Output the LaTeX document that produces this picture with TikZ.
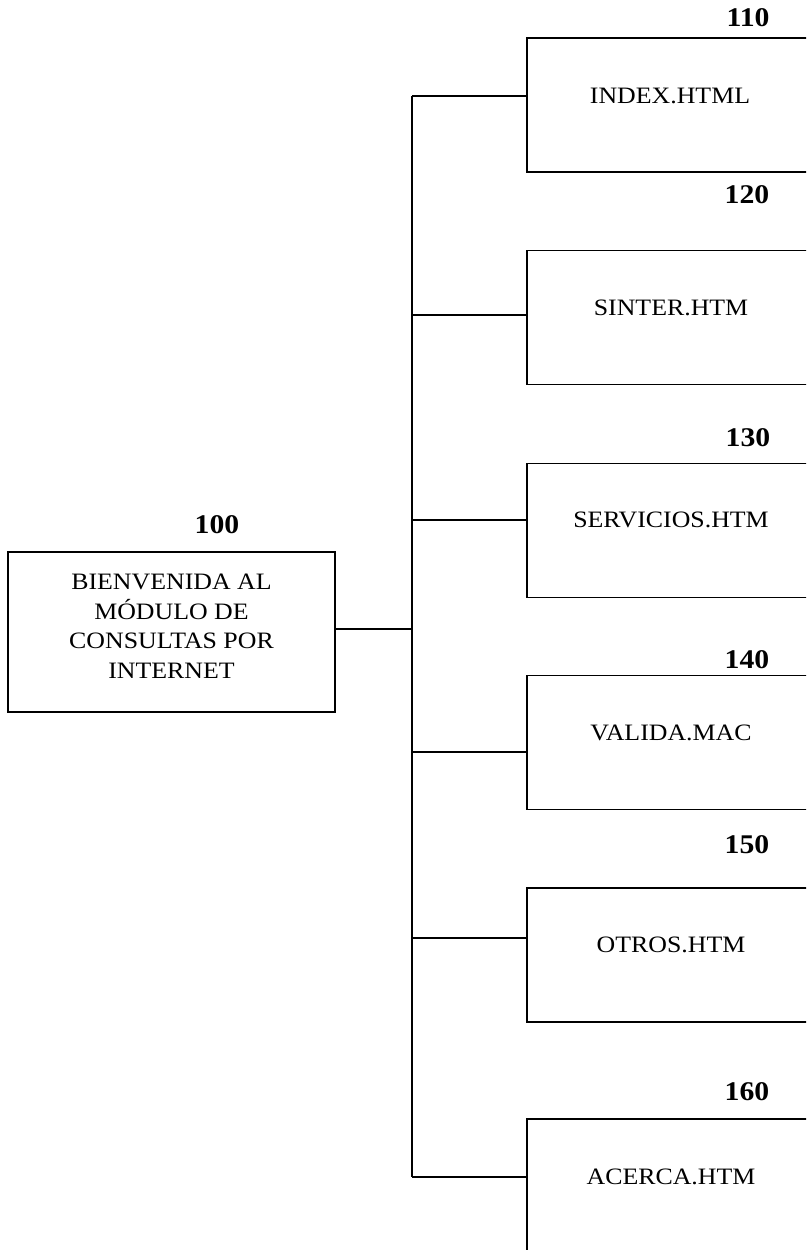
\documentclass[tikz,border=0pt]{standalone}
\usepackage{fontspec}
\setmainfont{Liberation Serif}[FakeStretch=1.1]
\begin{document}
\begin{tikzpicture}[x=1pt,y=-1pt,
  box/.style={draw,line width=1.2pt,inner sep=0pt,minimum width=286pt,minimum height=134pt},
  lbox/.style={draw,line width=1.2pt,inner sep=0pt,minimum width=327pt,minimum height=160pt},
  txt/.style={inner sep=0pt,font=\fontsize{23.5}{29.5}\selectfont},
  num/.style={inner sep=0pt,font=\fontsize{27}{30}\selectfont\bfseries},
  conn/.style={line width=1.2pt}]
\useasboundingbox (0,0) rectangle (806,1250);
\clip (0,0) rectangle (806,1250);
\fill[white] (0,0) rectangle (806,1250);
% left box
\node[lbox] (b100) at (171.5,632) {};
\node[txt,align=center] (t100) at (171.5,626) {BIENVENIDA AL\\MÓDULO DE\\CONSULTAS POR\\INTERNET};
\node[num] (n100) at (217,525) {100};
% right boxes
\node[box] (b110) at (670,105) {};
\node[box] (b120) at (670,317.5) {};
\node[box] (b130) at (670,530.5) {};
\node[box] (b140) at (670,742.5) {};
\node[box] (b150) at (670,955) {};
\node[box] (b160) at (670,1186) {};
\node[txt] (t110) at (670,96) {INDEX.HTML};
\node[txt] (t120) at (671,308) {SINTER.HTM};
\node[txt] (t130) at (671,520) {SERVICIOS.HTM};
\node[txt] (t140) at (671,733) {VALIDA.MAC};
\node[txt] (t150) at (671,945) {OTROS.HTM};
\node[txt] (t160) at (671,1177) {ACERCA.HTM};
\node[num] (n110) at (748,18) {110};
\node[num] (n120) at (747,195) {120};
\node[num] (n130) at (748,438) {130};
\node[num] (n140) at (747,660) {140};
\node[num] (n150) at (747,845) {150};
\node[num] (n160) at (747,1092) {160};
% connectors
\coordinate (sp) at (412,0);
\coordinate (c110) at (b110.west |- 0,96);
\coordinate (c120) at (b120.west |- 0,315);
\coordinate (c130) at (b130.west |- 0,520);
\coordinate (c140) at (b140.west |- 0,752);
\coordinate (c150) at (b150.west |- 0,938);
\coordinate (c160) at (b160.west |- 0,1177);
\draw[conn] (sp |- c110) -- (sp |- c160);
\draw[conn] (b100.east |- 0,629) -- (sp |- 0,629);
\foreach \c in {c110,c120,c130,c140,c150,c160}
  \draw[conn] (sp |- \c) -- (\c);
\end{tikzpicture}
\end{document}
